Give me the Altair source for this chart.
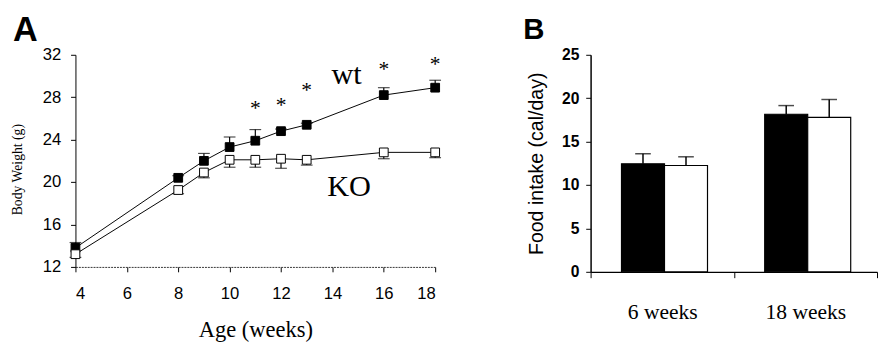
import altair as alt
import pandas as pd

# ---- Panel A data (body weight) ----
ages = [4, 8, 9, 10, 11, 12, 13, 16, 18]
wt_mean = [13.8, 20.4, 22.0, 23.3, 23.9, 24.8, 25.4, 28.2, 28.9]
wt_err = [0.5, 0.2, 0.7, 0.95, 1.05, 0.2, 0.15, 0.7, 0.7]
ko_mean = [13.2, 19.25, 20.9, 22.1, 22.1, 22.2, 22.1, 22.8, 22.8]
ko_err = [0.3, 0.35, 0.5, 0.7, 0.7, 0.9, 0.5, 0.6, 0.5]
star_age = [11, 12, 13, 16, 18]
star_y = [27.3, 27.6, 29.0, 31.0, 31.5]
label_text = ["wt", "KO"]
label_age = [14.55, 14.65]
label_y = [30.1, 19.55]
x_ticks = [4, 6, 8, 10, 12, 14, 16, 18]
y_ticks = [12, 16, 20, 24, 28, 32]

# ---- Panel B data (food intake) ----
groups = ["6 weeks", "18 weeks"]
genotypes = ["wt", "KO"]
food_wt = [12.45, 18.15]
food_wt_err = [1.15, 1.0]
food_ko = [12.25, 17.8]
food_ko_err = [1.0, 2.05]
food_ticks = [0, 5, 10, 15, 20, 25]

rows = []
for a, m, e in zip(ages, wt_mean, wt_err):
    rows.append({"age": a, "mean": m, "e0": m, "e1": m + e, "genotype": "wt"})
for a, m, e in zip(ages, ko_mean, ko_err):
    rows.append({"age": a, "mean": m, "e0": m, "e1": m - e, "genotype": "KO"})
dfA = pd.DataFrame(rows)
dfStars = pd.DataFrame({"age": star_age, "y": star_y, "t": ["*"] * len(star_age)})
dfLab = pd.DataFrame({"age": label_age, "y": label_y, "t": label_text})

rowsB = []
for g, m, e in zip(groups, food_wt, food_wt_err):
    rowsB.append({"week": g, "genotype": "wt", "mean": m, "top": m + e})
for g, m, e in zip(groups, food_ko, food_ko_err):
    rowsB.append({"week": g, "genotype": "KO", "mean": m, "top": m + e})
dfB = pd.DataFrame(rowsB)

SANS = "Liberation Sans"
SERIF = "Liberation Serif"

xA = alt.X("age:Q", scale=alt.Scale(domain=[4, 18], nice=False),
           axis=alt.Axis(values=x_ticks, title="Age (weeks)", titleFont=SERIF,
                         titleFontSize=23, titleFontWeight="normal", titleColor="black",
                         labelFont=SANS, labelFontSize=17, labelColor="black",
                         labelPadding=14, tickSize=5, tickColor="black",
                         domainColor="#333", domainDash=[2, 1], titlePadding=18))
yA = alt.Y("mean:Q", scale=alt.Scale(domain=[12, 32], nice=False),
           axis=alt.Axis(values=y_ticks, title="Body Weight (g)", titleFont=SERIF,
                         titleFontSize=14, titleFontWeight="normal", titleColor="black",
                         titleY=117,
                         labelFont=SANS, labelFontSize=17, labelColor="black",
                         labelPadding=10, tickSize=5, tickColor="black",
                         domainColor="black", titlePadding=18))

fillScale = alt.Scale(domain=genotypes, range=["black", "white"])

baseA = alt.Chart(dfA)
linesA = baseA.mark_line(color="black", strokeWidth=1).encode(x=xA, y=yA, detail="genotype:N")
errA = baseA.mark_rule(color="black", strokeWidth=1.2).encode(x="age:Q", y="e0:Q", y2="e1:Q")
capA = baseA.mark_tick(color="black", thickness=1.2, size=12, orient="horizontal").encode(
    x="age:Q", y="e1:Q")
ptsA = baseA.mark_square(size=80, opacity=1, stroke="black", strokeWidth=1).encode(
    x="age:Q", y="mean:Q",
    fill=alt.Fill("genotype:N", scale=fillScale, legend=None))
starsA = alt.Chart(dfStars).mark_text(font=SERIF, fontSize=22, color="black",
                                      baseline="middle", dy=4).encode(
    x="age:Q", y="y:Q", text="t:N")
labA = alt.Chart(dfLab).mark_text(font=SERIF, fontSize=31, color="black",
                                  baseline="middle").encode(
    x="age:Q", y="y:Q", text="t:N")

panelA = alt.layer(linesA, errA, capA, ptsA, starsA, labA).properties(
    width=368, height=217,
    title=alt.TitleParams("A", anchor="start", frame="bounds", font=SANS, fontSize=35,
                          fontWeight="bold", color="black", dx=2, offset=-2))

xB = alt.X("week:N", sort=groups,
           scale=alt.Scale(paddingInner=0, paddingOuter=0),
           axis=alt.Axis(title=None, labelAngle=0, tickBand="extent",
                         labelFont=SERIF, labelFontSize=22, labelColor="black",
                         labelPadding=25, tickSize=6, tickColor="black",
                         domainColor="black", domainWidth=1.2))
xoB = alt.XOffset("genotype:N", sort=genotypes,
                  scale=alt.Scale(paddingInner=0, paddingOuter=0.665, align=0.54))
yB = alt.Y("mean:Q", scale=alt.Scale(domain=[0, 25], nice=False),
           axis=alt.Axis(values=food_ticks, title="Food intake (cal/day)",
                         titleFont=SANS, titleFontSize=20, titleFontWeight="normal",
                         titleColor="black", labelFont=SANS, labelFontSize=16,
                         labelFontWeight="bold", labelColor="black",
                         labelPadding=7, tickSize=5, tickColor="black",
                         domainColor="black", domainWidth=1.5, titlePadding=15))

baseB = alt.Chart(dfB)
barsB = baseB.mark_bar(stroke="black", strokeWidth=1.2).encode(
    x=xB, xOffset=xoB, y=yB,
    fill=alt.Fill("genotype:N", scale=fillScale, legend=None))
errB = baseB.mark_rule(color="black", strokeWidth=1.5).encode(
    x=alt.X("week:N", sort=groups), xOffset=alt.XOffset("genotype:N", sort=genotypes),
    y="mean:Q", y2="top:Q")
capB = baseB.mark_tick(color="black", thickness=1.5, size=16, orient="horizontal").encode(
    x=alt.X("week:N", sort=groups), xOffset=alt.XOffset("genotype:N", sort=genotypes),
    y="top:Q")

panelB = alt.layer(barsB, errB, capB).properties(
    width=293, height=222,
    title=alt.TitleParams("B", anchor="start", frame="bounds", font=SANS, fontSize=30,
                          fontWeight="bold", color="black", dx=-4, offset=2))

chart = alt.hconcat(panelA, panelB, spacing=83).properties(
    padding={"top": 2, "left": 3, "right": 0, "bottom": 0}).configure_view(
    stroke=None).configure_axis(grid=False)

chart.save("out.html", embed_options={"renderer": "svg", "actions": False})
